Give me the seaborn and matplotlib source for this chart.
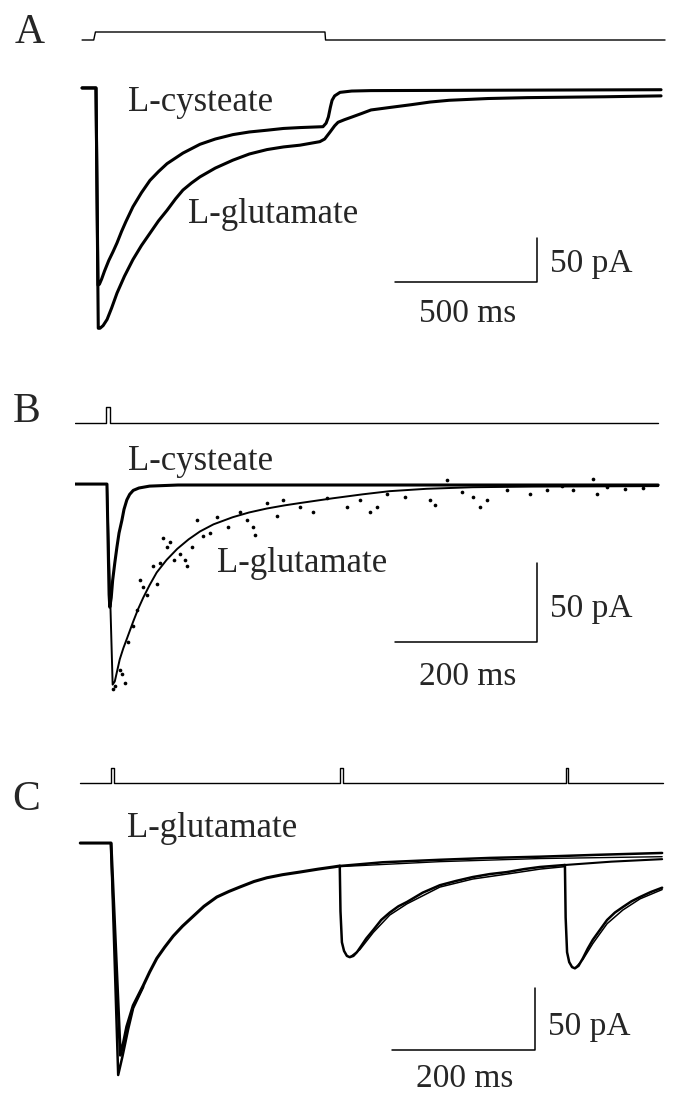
import matplotlib
matplotlib.use("Agg")
import matplotlib.pyplot as plt
import seaborn as sns

# ---- panel A: long application (ms, pA) ----
A_STIM_T = [-49, -8, -2, 806, 808, 2003]
A_STIM_V = [0, 0, 1, 1, 0, 0]
A_T_CYS = [-49, 0, 7, 12, 20, 30, 45, 60, 74, 90, 105, 130, 160, 190, 220, 250, 306, 366, 420, 482,
           540, 602, 660, 718, 799, 810, 818, 825, 831, 840, 859, 900, 968, 1989]
A_I_CYS = [0, 0, -224, -223, -217, -208, -196, -186, -176, -163, -152, -135, -119, -105, -95, -86, -74, -64, -58, -53,
           -50, -48, -46, -45, -44, -40, -33, -22, -14, -9, -5, -3.5, -3, -2]
A_T_GLU = [-49, 0, 8, 14, 25, 39, 55, 74, 100, 130, 160, 190, 220, 250, 280, 306, 336, 366, 420, 482,
           540, 602, 660, 718, 788, 805, 824, 840, 852, 875, 901, 935, 968, 1038, 1110, 1176, 1243, 1380, 1517, 1792,
           1989]
A_I_GLU = [0, 0, -273, -273, -270, -263, -250, -233, -214, -195, -179, -165, -151, -139, -126, -116, -108, -101, -91, -82,
           -75, -70, -67, -65, -61, -58, -50, -43, -39, -36, -33, -29, -25, -22, -19, -16, -14, -12, -11, -10,
           -9]

# ---- panel B: brief pulse ----
B_STIM_T = [-45, -1, -1, 4, 4, 776]
B_STIM_V = [0, 0, 1, 1, 0, 0]
B_T_CYS = [-45, 0, 3, 4, 6, 8, 11, 14, 17, 21, 24, 28, 32, 37, 45, 60, 100, 776]
B_I_CYS = [0, 0, -70, -78, -72, -61, -50, -40, -31, -23, -16, -10, -6.5, -4, -2.5, -1.3, -0.6, -0.6]
B_T_GLU_FIT = [0, 8, 11, 14, 18, 23, 28, 37, 44, 51, 60, 70, 84, 99, 115, 131, 150, 177, 200, 225,
               250, 272, 318, 360, 398, 450, 515, 600, 776]
B_I_GLU_FIT = [0, -127, -125, -119, -111, -104, -98, -87, -79, -72, -64, -56, -48, -41, -35, -30, -25.5, -21, -18, -15.5,
               -13.5, -12, -9, -6.5, -4.5, -3, -2, -1.6, -1.3]
B_T_GLU_RAW = [9, 12, 18, 21, 25, 30, 37, 42, 46, 51, 56, 65, 70, 75, 79, 84, 89, 94, 103, 110,
               113, 120, 127, 135, 145, 155, 170, 187, 197, 206, 208, 225, 240, 248, 272, 290, 310, 338, 356, 370,
               380, 394, 420, 455, 462, 479, 500, 515, 525, 535, 563, 596, 620, 640, 656, 684, 690, 704, 730, 755]
B_I_GLU_RAW = [-130, -128, -118, -120, -126, -100, -90, -80, -61, -65, -70, -52, -63, -50, -34, -40, -37, -48, -44, -48,
               -52, -40, -23, -33, -31, -21, -27, -18, -23, -27, -32, -12, -20, -10, -14.5, -18, -9, -14.5, -10, -18,
               -14.5, -6, -8, -10, -13, 2.5, -5, -8, -14.5, -10, -4, -6, -4, -1, -4, 3, -6, -2, -3, -2.5]

# ---- panel C: trains of 1, 2 and 3 pulses ----
C_STIM_T = [-43, 0, 0, 4, 4, 320, 320, 324, 324, 636, 636, 640, 640, 772]
C_STIM_V = [0, 0, 1, 1, 0, 0, 1, 1, 0, 0, 1, 1, 0, 0]
C_T_FIRST = [-43, 0, 13, 17, 22, 31, 38, 45, 54, 64, 75, 87, 100, 115, 130, 148, 165, 180, 200, 218,
             240, 264, 290, 311, 320]
C_I_FIRST = [0, 0, -171, -162, -148, -131, -123, -115, -104, -93, -84, -75, -67, -59, -51, -43.5, -39, -35.5, -31, -28,
             -25.5, -23.4, -21, -19.3, -18.5]
C_T_FIRST_DEEP = [0, 10, 16, 24, 31, 45]
C_I_FIRST_DEEP = [0, -187, -172, -150, -133, -116]
C_T_TAIL1 = [320, 380, 460, 530, 600, 680, 771]
C_I_TAIL1 = [-18.5, -15.5, -13.5, -12, -11, -9.5, -8]
C_T_FIT_TAIL = [320, 460, 600, 771]
C_I_FIT_TAIL = [-19, -15, -12.5, -11]
C_T_SECOND = [320, 321, 323, 326, 330, 334, 339, 344, 350, 357, 367, 378, 390, 402, 414, 436, 460, 483, 506, 530,
              554, 578, 600, 635]
C_I_SECOND = [-18.5, -55, -80, -87, -91, -92, -91, -88, -83, -77, -70, -62, -56, -51, -47.5, -40, -34, -30.5, -27.4, -25,
              -23.4, -21, -19.3, -17.7]
C_T_SECOND_FIT = [334, 348, 367, 390, 414, 460, 506, 554, 600, 635]
C_I_SECOND_FIT = [-92, -86, -72, -58, -49, -35.5, -29, -25, -21, -19]
C_T_TAIL2 = [635, 700, 771]
C_I_TAIL2 = [-17.7, -15, -13]
C_T_THIRD = [635, 636, 638, 641, 645, 649, 654, 660, 667, 674, 684, 694, 705, 716, 728, 740, 755, 771]
C_I_THIRD = [-17.7, -60, -88, -96, -100, -101, -99, -93, -85, -78, -70, -62, -56, -51.6, -47, -43.5, -39.5, -36]
C_T_THIRD_FIT = [649, 660, 674, 694, 716, 740, 771]
C_I_THIRD_FIT = [-101, -94, -81, -65, -54, -45, -37.5]

W, H = 673, 1093


def box(x0, y0, x1, y1):
    return [x0 / W, 1 - y1 / H, (x1 - x0) / W, (y1 - y0) / H]


sns.set_theme(style="white")
plt.rcParams['font.family'] = ['Liberation Serif', 'DejaVu Serif']

fig = plt.figure(figsize=(6.73, 10.93), dpi=100)
LAB = 25
SCL = 24
LET = 30


def trace(ax, t, i, lw=2.0):
    sns.lineplot(x=t, y=i, ax=ax, color='black', lw=lw, sort=False, estimator=None)


def stim_axes(b, xlim, ylim, t, v):
    ax = fig.add_axes(box(*b))
    trace(ax, t, v, lw=1.0)
    ax.set_xlim(*xlim)
    ax.set_ylim(*ylim)
    ax.set_axis_off()
    return ax


def scalebar(ax, t0, i0, dt, di, tlab, ilab, ilab_y, tlab_y):
    ax.plot([t0, t0 + dt, t0 + dt], [i0, i0, i0 + di], color='black', lw=1.1)
    ax.text(t0 + dt * 1.09, ilab_y, ilab, fontsize=SCL, va='baseline', ha='left')
    ax.text(t0 + dt * 0.51, tlab_y, tlab, fontsize=SCL, va='baseline', ha='center')


# ---------------- A ----------------
stim_axes((75, 20, 670, 60), (-73.9, 2020.5), (-2.5, 2.5), A_STIM_T, A_STIM_V)
axA = fig.add_axes(box(75, 70, 670, 345))
trace(axA, A_T_CYS, A_I_CYS, lw=2.2)
trace(axA, A_T_GLU, A_I_GLU, lw=2.2)
axA.set_xlim(-73.9, 2020.5)
axA.set_ylim(-292, 20.4)
axA.set_axis_off()
axA.text(113, -26, 'L-cysteate', fontsize=LAB, va='baseline')
axA.text(325, -153, 'L-glutamate', fontsize=LAB, va='baseline')
scalebar(axA, 1052, -220, 500, 50, '500 ms', '50 pA', -209, -266)
fig.text(15 / W, 1 - 43 / H, 'A', fontsize=LET, va='baseline')

# ---------------- B ----------------
stim_axes((75, 395, 670, 435), (-45, 792.7), (-0.75, 1.75), B_STIM_T, B_STIM_V)
axB = fig.add_axes(box(75, 440, 670, 720))
sns.scatterplot(x=B_T_GLU_RAW, y=B_I_GLU_RAW, ax=axB, color='black', s=7, linewidth=0)
trace(axB, B_T_CYS, B_I_CYS, lw=2.2)
trace(axB, B_T_GLU_FIT, B_I_GLU_FIT, lw=1.4)
axB.set_xlim(-45, 792.7)
axB.set_ylim(-149.4, 27.9)
axB.set_axis_off()
axB.text(29.6, 8.9, 'L-cysteate', fontsize=LAB, va='baseline')
axB.text(155, -55.7, 'L-glutamate', fontsize=LAB, va='baseline')
scalebar(axB, 405.5, -100, 200, 50, '200 ms', '50 pA', -84.2, -127)
fig.text(13 / W, 1 - 422 / H, 'B', fontsize=LET, va='baseline')

# ---------------- C ----------------
stim_axes((75, 755, 670, 795), (-50.4, 782), (-0.8, 1.867), C_STIM_T, C_STIM_V)
axC = fig.add_axes(box(75, 800, 670, 1093))
trace(axC, C_T_FIRST, C_I_FIRST, lw=2.2)
trace(axC, C_T_FIRST_DEEP, C_I_FIRST_DEEP, lw=1.8)
trace(axC, C_T_TAIL1, C_I_TAIL1, lw=1.8)
trace(axC, C_T_FIT_TAIL, C_I_FIT_TAIL, lw=1.0)
trace(axC, C_T_SECOND, C_I_SECOND, lw=1.8)
trace(axC, C_T_SECOND_FIT, C_I_SECOND_FIT, lw=1.1)
trace(axC, C_T_TAIL2, C_I_TAIL2, lw=1.5)
trace(axC, C_T_THIRD, C_I_THIRD, lw=1.8)
trace(axC, C_T_THIRD_FIT, C_I_THIRD_FIT, lw=1.1)
axC.set_xlim(-50.4, 782)
axC.set_ylim(-201.5, 34.7)
axC.set_axis_off()
axC.text(22, 4.8, 'L-glutamate', fontsize=LAB, va='baseline')
scalebar(axC, 393, -166.8, 200, 50, '200 ms', '50 pA', -154.8, -196.5)
fig.text(12 / W, 1 - 810 / H, 'C', fontsize=LET, va='baseline')

fig.savefig('out.png', dpi=100, facecolor='white')
